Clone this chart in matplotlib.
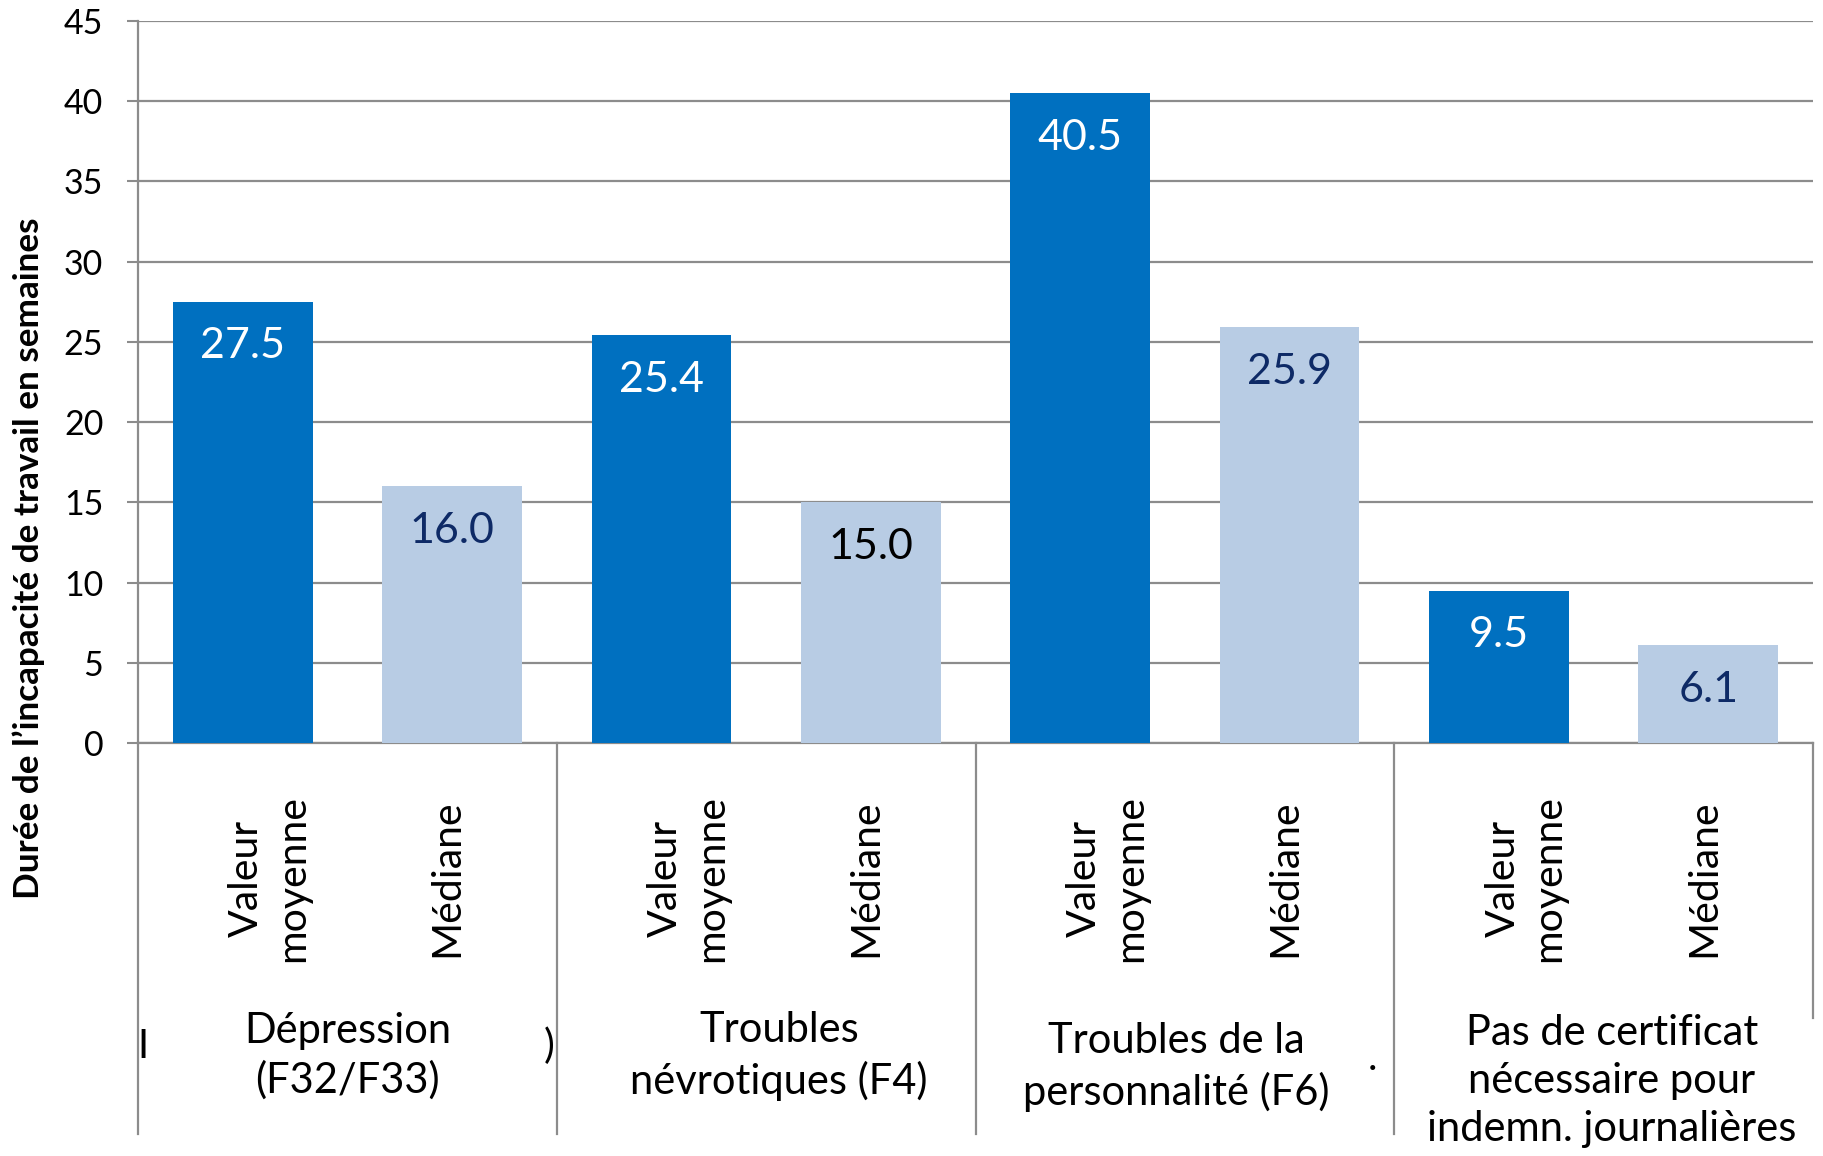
import matplotlib
matplotlib.use("Agg")
import matplotlib.pyplot as plt
from matplotlib import font_manager
from matplotlib.transforms import blended_transform_factory, ScaledTranslation
from matplotlib.lines import Line2D

# ---- data ----
groups = ["Dépression\n(F32/F33)", "Troubles\nnévrotiques (F4)",
          "Troubles de la\npersonnalité (F6)",
          "Pas de certificat\nnécessaire pour\nindemn. journalières"]
series_labels = ["Valeur\nmoyenne", "Médiane"]
mean_values = [27.5, 25.4, 40.5, 9.5]
median_values = [16.0, 15.0, 25.9, 6.1]
y_ticks = [0, 5, 10, 15, 20, 25, 30, 35, 40, 45]
y_label = "Durée de l’incapacité de travail en semaines"

# ---- style ----
names = {f.name for f in font_manager.fontManager.ttflist}
BASE = "Lato" if "Lato" in names else "DejaVu Sans"
plt.rcParams["font.family"] = [BASE, "DejaVu Sans"]

DARK = "#0070C0"
LIGHT = "#B8CCE4"
NAVY = "#0E2A66"
GRID = "#8C8C8C"

W, H = 1823, 1156
fig = plt.figure(figsize=(W / 100, H / 100), dpi=100)
ax = fig.add_axes([138 / W, 1 - 743 / H, (1813 - 138) / W, (743 - 21) / H])

xs = []
vals = []
cols = []
for i in range(len(groups)):
    xs += [2 * i, 2 * i + 1]
    vals += [mean_values[i], median_values[i]]
    cols += [DARK, LIGHT]

bars = ax.bar(xs, vals, width=0.667, color=cols, zorder=3)

ax.set_xlim(-0.5, 2 * len(groups) - 0.5)
ax.set_ylim(0, 45)
ax.set_yticks(y_ticks)
ax.tick_params(axis="y", length=8, width=1.5, color=GRID, pad=17, labelsize=24.5)
ax.set_xticks([])
ax.grid(axis="y", color=GRID, linewidth=1.6, zorder=0)
ax.set_axisbelow(True)
for s in ["top", "right"]:
    ax.spines[s].set_visible(False)
for s in ["left", "bottom"]:
    ax.spines[s].set_color(GRID)
    ax.spines[s].set_linewidth(1.6)

# data labels
for k, (b, v) in enumerate(zip(bars, vals)):
    is_mean = k % 2 == 0
    if is_mean:
        c = "white"
    else:
        c = "black" if k == 3 else NAVY
    ax.annotate(f"{v:.1f}", xy=(b.get_x() + b.get_width() / 2, v),
                xytext=(0, -32), textcoords="offset points",
                ha="center", va="center", fontsize=31, color=c, zorder=4)

# y label
fig.text(29 / W, 1 - 558 / H, y_label, rotation=90, ha="center", va="center",
         fontsize=25.3, fontweight="bold")

# category labels (rotated)
tr = blended_transform_factory(ax.transData, fig.transFigure)
for k, x in enumerate(xs):
    lab = series_labels[k % 2]
    dx = 27 if k % 2 == 0 else -5
    t = tr + ScaledTranslation(dx / 100, 0, fig.dpi_scale_trans)
    fig.text(x, 1 - 878 / H, lab, transform=t, rotation=90, ha="center",
             va="center", multialignment="center", fontsize=29.5, linespacing=1.3)

# group labels
gy = [1 - 1056 / H, 1 - 1056 / H, 1 - 1067 / H, 1 - 1081 / H]
gdx = [0, 13, -9, 8]
for i, g in enumerate(groups):
    t = tr + ScaledTranslation(gdx[i] / 100, 0, fig.dpi_scale_trans)
    fig.text(2 * i + 0.5, gy[i], g, transform=t, ha="center", va="center",
             multialignment="center", fontsize=30, linespacing=1.33)

# group divider lines
for i in range(len(groups) + 1):
    x = 2 * i - 0.5
    y_end = 1 - 1018 / H if i == len(groups) else 1 - 1134 / H
    fig.add_artist(Line2D([x, x], [1 - 743 / H, y_end], transform=tr,
                          color=GRID, linewidth=1.6, clip_on=False))

# stray glyph remnants visible in the source
fig.text(143 / W, 1 - 1046 / H, "I", ha="center", va="center", fontsize=29)
fig.text(549 / W, 1 - 1046 / H, ")", ha="center", va="center", fontsize=29)
fig.text(1372 / W, 1 - 1058 / H, ".", ha="center", va="center", fontsize=29)

fig.savefig("out.png", dpi=100)
